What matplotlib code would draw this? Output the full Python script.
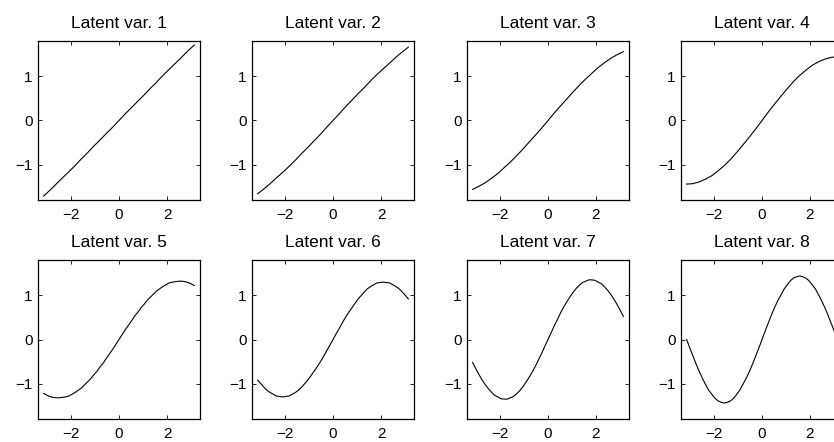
import matplotlib
matplotlib.use("Agg")
import matplotlib.pyplot as plt

# x samples (from -pi to pi)
x_vals = [-3.14, -2.88, -2.62, -2.36, -2.09, -1.83, -1.57, -1.31, -1.05, -0.79, -0.52, -0.26,
          0.0, 0.26, 0.52, 0.79, 1.05, 1.31, 1.57, 1.83, 2.09, 2.36, 2.62, 2.88, 3.14]
# denser x samples for the wavier curves
x_fine = [-3.14, -3.01, -2.88, -2.75, -2.62, -2.49, -2.36, -2.23, -2.09, -1.96, -1.83, -1.70,
          -1.57, -1.44, -1.31, -1.18, -1.05, -0.92, -0.79, -0.65, -0.52, -0.39, -0.26, -0.13,
          0.0, 0.13, 0.26, 0.39, 0.52, 0.65, 0.79, 0.92, 1.05, 1.18, 1.31, 1.44,
          1.57, 1.70, 1.83, 1.96, 2.09, 2.23, 2.36, 2.49, 2.62, 2.75, 2.88, 3.01, 3.14]

# curve values, one list per latent variable
lv1 = [-1.71, -1.58, -1.44, -1.30, -1.16, -1.02, -0.87, -0.73, -0.58, -0.44, -0.29, -0.15,
       0.0, 0.15, 0.29, 0.44, 0.58, 0.73, 0.87, 1.02, 1.16, 1.30, 1.44, 1.58, 1.71]
lv2 = [-1.66, -1.55, -1.43, -1.30, -1.17, -1.04, -0.90, -0.75, -0.61, -0.46, -0.31, -0.15,
       0.0, 0.15, 0.31, 0.46, 0.61, 0.75, 0.90, 1.04, 1.17, 1.30, 1.43, 1.55, 1.66]
lv3 = [-1.56, -1.49, -1.41, -1.31, -1.20, -1.07, -0.94, -0.80, -0.65, -0.49, -0.33, -0.17,
       0.0, 0.17, 0.33, 0.49, 0.65, 0.80, 0.94, 1.07, 1.20, 1.31, 1.41, 1.49, 1.56]
lv4 = [-1.44, -1.43, -1.39, -1.33, -1.25, -1.14, -1.02, -0.88, -0.72, -0.55, -0.37, -0.19,
       0.0, 0.19, 0.37, 0.55, 0.72, 0.88, 1.02, 1.14, 1.25, 1.33, 1.39, 1.43, 1.44]
lv5 = [-1.22, -1.26, -1.29, -1.31, -1.32, -1.32, -1.31, -1.30, -1.28, -1.24, -1.20, -1.15,
       -1.10, -1.03, -0.96, -0.89, -0.80, -0.72, -0.62, -0.53, -0.42, -0.32, -0.22, -0.11,
       0.0, 0.11, 0.22, 0.32, 0.42, 0.53, 0.62, 0.72, 0.80, 0.89, 0.96, 1.03,
       1.10, 1.15, 1.20, 1.24, 1.28, 1.30, 1.31, 1.32, 1.32, 1.31, 1.29, 1.26, 1.22]
lv6 = [-0.92, -1.00, -1.08, -1.15, -1.20, -1.24, -1.28, -1.29, -1.30, -1.29, -1.28, -1.24,
       -1.20, -1.15, -1.08, -1.00, -0.92, -0.82, -0.72, -0.61, -0.50, -0.38, -0.25, -0.13,
       0.0, 0.13, 0.25, 0.38, 0.50, 0.61, 0.72, 0.82, 0.92, 1.00, 1.08, 1.15,
       1.20, 1.24, 1.28, 1.29, 1.30, 1.29, 1.28, 1.24, 1.20, 1.15, 1.08, 1.00, 0.92]
lv7 = [-0.52, -0.66, -0.79, -0.91, -1.02, -1.11, -1.19, -1.26, -1.30, -1.34, -1.35, -1.35,
       -1.32, -1.29, -1.23, -1.16, -1.07, -0.97, -0.86, -0.73, -0.60, -0.45, -0.31, -0.15,
       0.0, 0.15, 0.31, 0.45, 0.60, 0.73, 0.86, 0.97, 1.07, 1.16, 1.23, 1.29,
       1.32, 1.35, 1.35, 1.34, 1.30, 1.26, 1.19, 1.11, 1.02, 0.91, 0.79, 0.66, 0.52]
lv8 = [0.00, -0.19, -0.37, -0.55, -0.72, -0.87, -1.01, -1.14, -1.24, -1.33, -1.39, -1.42,
       -1.44, -1.42, -1.39, -1.33, -1.24, -1.14, -1.01, -0.87, -0.72, -0.55, -0.37, -0.19,
       0.0, 0.19, 0.37, 0.55, 0.72, 0.87, 1.01, 1.14, 1.24, 1.33, 1.39, 1.42,
       1.44, 1.42, 1.39, 1.33, 1.24, 1.14, 1.01, 0.87, 0.72, 0.55, 0.37, 0.19, 0.00]

titles = ['Latent var. %d' % i for i in range(1, 9)]
curves = [(x_vals, lv1), (x_vals, lv2), (x_vals, lv3), (x_vals, lv4),
          (x_fine, lv5), (x_fine, lv6), (x_fine, lv7), (x_fine, lv8)]

plt.rcParams['font.family'] = ['Liberation Sans', 'DejaVu Sans']
plt.rcParams['font.size'] = 11

fig = plt.figure(figsize=(8.34, 4.42), dpi=100)

W, H = 834.0, 442.0
col_left = [38, 252, 467, 681]
row_top = [41, 260]
ax_w, ax_h = 162, 159

for i, ((xs, ys), title) in enumerate(zip(curves, titles)):
    r, c = divmod(i, 4)
    left = col_left[c] / W
    bottom = 1 - (row_top[r] + ax_h) / H
    ax = fig.add_axes([left, bottom, ax_w / W, ax_h / H])
    ax.plot(xs, ys, color='black', lw=0.8)
    ax.set_xlim(-3.375, 3.375)
    ax.set_ylim(-1.8, 1.8)
    ax.set_xticks([-2, 0, 2])
    ax.set_yticks([-1, 0, 1])
    ax.tick_params(direction='in', top=True, right=True, length=3, width=0.6, labelsize=11)
    ax.tick_params(axis='x', pad=6)
    ax.tick_params(axis='y', pad=4)
    for s in ax.spines.values():
        s.set_linewidth(0.9)
    ax.set_title(title, fontsize=12.5, pad=9.5)

fig.savefig('out.png', dpi=100)
